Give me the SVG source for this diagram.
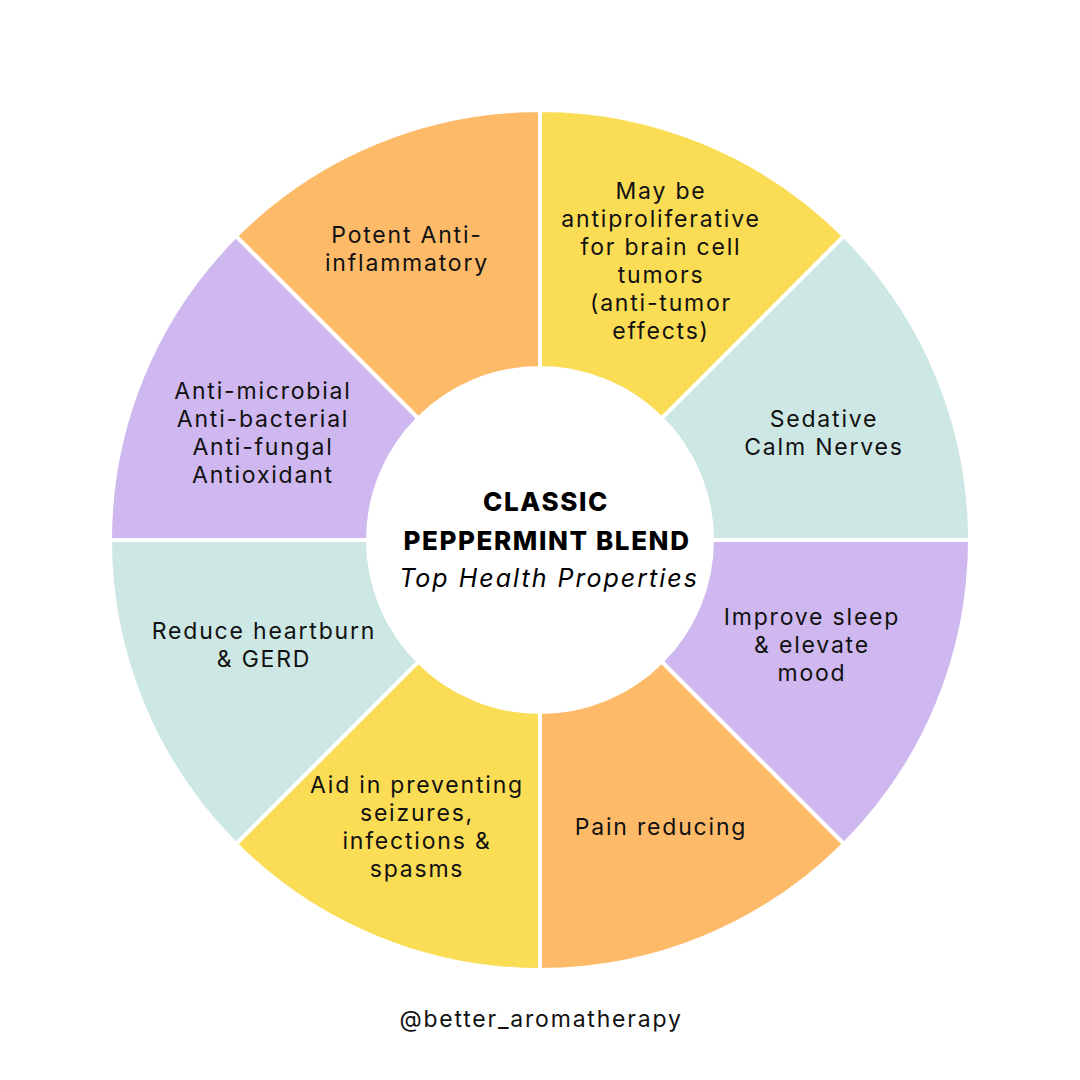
<svg xmlns="http://www.w3.org/2000/svg" width="1080" height="1080" viewBox="0 0 1080 1080">
<style>
.seg{stroke:#fff;stroke-width:4;stroke-linejoin:miter}
.o{fill:#FDBB6A}.y{fill:#FBDC55}.t{fill:#CDE7E4}.p{fill:#CEB8EF}
.lb{font-family:Inter,"Open Sans",sans-serif;font-size:23px;letter-spacing:1.8px;fill:#111;text-anchor:middle}
.tb{font-family:Inter,"Open Sans",sans-serif;font-size:26px;font-weight:800;letter-spacing:1.6px;fill:#000;text-anchor:middle}
.ti{font-family:Inter,"Open Sans",sans-serif;font-size:25px;font-style:italic;letter-spacing:2px;fill:#000;text-anchor:middle}
</style>
<rect width="1080" height="1080" fill="#fff"/>
<g id="seg-antiproliferative"><path class="seg y" d="M540,110 A430,430 0 0 1 844.06,235.94 L661.62,418.38 A172,172 0 0 0 540,368 Z"/>
<text class="lb"><tspan x="661" y="199">May be</tspan><tspan x="661" y="227">antiproliferative</tspan><tspan x="661" y="255">for brain cell</tspan><tspan x="661" y="283">tumors</tspan><tspan x="661" y="311">(anti-tumor</tspan><tspan x="661" y="339">effects)</tspan></text></g>
<g id="seg-sedative"><path class="seg t" d="M844.06,235.94 A430,430 0 0 1 970,540 L712,540 A172,172 0 0 0 661.62,418.38 Z"/>
<text class="lb"><tspan x="824" y="427">Sedative</tspan><tspan x="824" y="455">Calm Nerves</tspan></text></g>
<g id="seg-sleep"><path class="seg p" d="M970,540 A430,430 0 0 1 844.06,844.06 L661.62,661.62 A172,172 0 0 0 712,540 Z"/>
<text class="lb"><tspan x="812" y="625">Improve sleep</tspan><tspan x="812" y="653">&amp; elevate</tspan><tspan x="812" y="681">mood</tspan></text></g>
<g id="seg-pain"><path class="seg o" d="M844.06,844.06 A430,430 0 0 1 540,970 L540,712 A172,172 0 0 0 661.62,661.62 Z"/>
<text class="lb"><tspan x="661" y="835">Pain reducing</tspan></text></g>
<g id="seg-seizures"><path class="seg y" d="M540,970 A430,430 0 0 1 235.94,844.06 L418.38,661.62 A172,172 0 0 0 540,712 Z"/>
<text class="lb"><tspan x="417" y="793">Aid in preventing</tspan><tspan x="417" y="821">seizures,</tspan><tspan x="417" y="849">infections &amp;</tspan><tspan x="417" y="877">spasms</tspan></text></g>
<g id="seg-heartburn"><path class="seg t" d="M235.94,844.06 A430,430 0 0 1 110,540 L368,540 A172,172 0 0 0 418.38,661.62 Z"/>
<text class="lb"><tspan x="264" y="639">Reduce heartburn</tspan><tspan x="264" y="667">&amp; GERD</tspan></text></g>
<g id="seg-antimicrobial"><path class="seg p" d="M110,540 A430,430 0 0 1 235.94,235.94 L418.38,418.38 A172,172 0 0 0 368,540 Z"/>
<text class="lb"><tspan x="263" y="399">Anti-microbial</tspan><tspan x="263" y="427">Anti-bacterial</tspan><tspan x="263" y="455">Anti-fungal</tspan><tspan x="263" y="483">Antioxidant</tspan></text></g>
<g id="seg-inflammatory"><path class="seg o" d="M235.94,235.94 A430,430 0 0 1 540,110 L540,368 A172,172 0 0 0 418.38,418.38 Z"/>
<text class="lb"><tspan x="407" y="243">Potent Anti-</tspan><tspan x="407" y="271">inflammatory</tspan></text></g>
<g id="center">
<text class="tb" x="546" y="511">CLASSIC</text>
<text class="tb" x="547" y="550">PEPPERMINT BLEND</text>
<text class="ti" x="549" y="587">Top Health Properties</text>
</g>
<text class="lb" x="541" y="1027">@better_aromatherapy</text>
</svg>
